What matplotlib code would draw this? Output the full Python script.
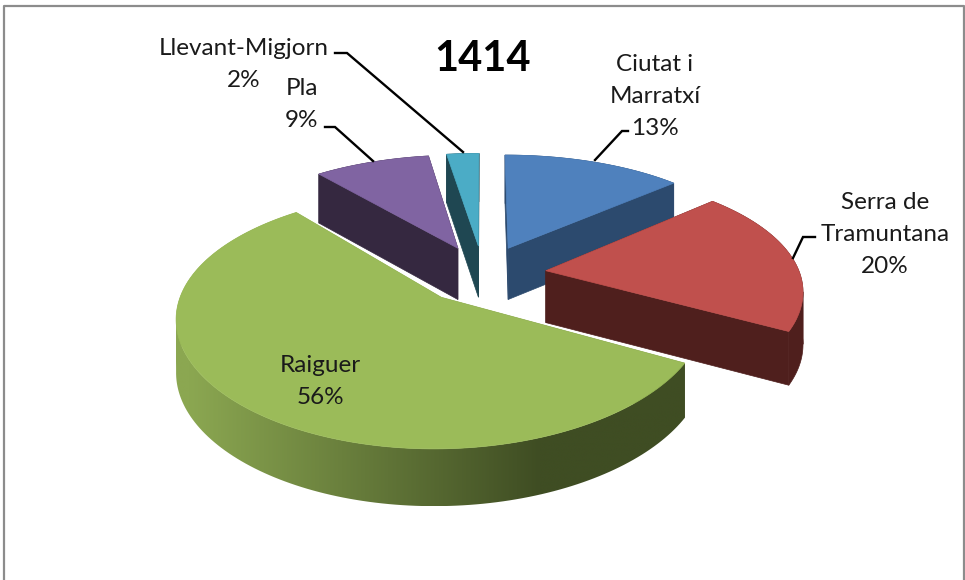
import numpy as np
import matplotlib
matplotlib.use('Agg')
import matplotlib.pyplot as plt
from matplotlib.colors import to_rgb
from matplotlib.patches import Polygon

# chart data
names = ['Ciutat i\nMarratxí', 'Serra de\nTramuntana', 'Raiguer', 'Pla', 'Llevant-Migjorn']
values = [13.4, 19.6, 56.0, 8.6, 2.4]
title = '1414'

top_colors = ['#4f81bd', '#c0504d', '#9bbb59', '#8064a2', '#4bacc6']
wall_dark = ['#2c4a6e', '#4f1f1d', '#3f4d23', '#352840', '#1f4752']
wall_light = ['#2c4a6e', '#4f1f1d', '#8ba751', '#352840', '#1f4752']

# projection of the 3d pie, in pixels
cx, cy = 483, 274
a, k = 254, 117
dist_x, dist_y = 6.9, 5.9
depth = 52
explode = 0.25


def project(x, y, z=0.0):
    sx = dist_x / (dist_x + y)
    sy = dist_y / (dist_y + y)
    return cx + a * x * sx, cy - k * y * sy + z * depth * (1 + (sy - 1) * 0.4)


def wall_xy(pts):
    # top edge along pts, back along the bottom edge
    upper = [project(p[0], p[1], 0) for p in pts]
    lower = [project(p[0], p[1], 1) for p in pts[::-1]]
    return upper + lower


def draw_wall(ax, xy, i, z):
    if wall_light[i] == wall_dark[i]:
        ax.add_patch(Polygon(xy, closed=True, fc=wall_dark[i], ec=wall_dark[i], lw=0.5, zorder=z))
        return
    # shaded outer wall: horizontal gradient clipped to the wall outline
    xs = np.array([p[0] for p in xy])
    ys = np.array([p[1] for p in xy])
    col = np.linspace(xs.min(), xs.max(), 512)
    t = np.clip((col - 190) / 350, 0, 1)[:, None]
    c0, c1 = np.array(to_rgb(wall_light[i])), np.array(to_rgb(wall_dark[i]))
    img = (c0 + (c1 - c0) * t)[None, :, :]
    im = ax.imshow(img, extent=(xs.min(), xs.max(), ys.max(), ys.min()), aspect='auto',
                   interpolation='bilinear', zorder=z)
    im.set_clip_path(Polygon(xy, closed=True, transform=ax.transData))


def split_rim(rim):
    # cut the rim where it turns round in x, the wall outline would cross itself there
    xs = [project(*p)[0] for p in rim]
    cuts = sorted({int(np.argmin(xs)), int(np.argmax(xs)), 0, len(rim) - 1})
    return [rim[c0:c1 + 1] for c0, c1 in zip(cuts[:-1], cuts[1:])]


fig = plt.figure(figsize=(9.65, 5.8), dpi=100)
ax = fig.add_axes([0, 0, 1, 1])
plt.rcParams['font.family'] = ['Lato', 'DejaVu Sans']

# outer frame, open at the bottom
ax.plot([3.5, 3.5, 964, 964], [580, 5.5, 5.5, 580], color='#8c8c8c', lw=1.6, zorder=1)

total = sum(values)
edges = np.cumsum([0] + values) / total * 2 * np.pi
draw_order = [0, 4, 3, 1, 2]

z = 2
for i in draw_order:
    t0, t1 = edges[i], edges[i + 1]
    mid = (t0 + t1) / 2
    ox, oy = explode * np.sin(mid), explode * np.cos(mid)
    ts = np.linspace(t0, t1, 160)
    rim = [(ox + np.sin(t), oy + np.cos(t)) for t in ts]
    apex = (ox, oy)

    # cut faces and outer wall, back ones first
    faces = [[apex, rim[0]], [apex, rim[-1]]] + split_rim(rim)
    faces.sort(key=lambda f: -np.mean([p[1] for p in f]))
    for f in faces:
        draw_wall(ax, wall_xy(f), i, z)
        z += 1
    top = [project(*p) for p in [apex] + rim]
    ax.add_patch(Polygon(top, closed=True, fc=top_colors[i], ec=top_colors[i], lw=0.5, zorder=z))
    z += 1

# leader lines
leaders = [
    ([595, 622, 628], [160, 131, 131]),
    ([793, 803, 815], [258, 237, 237]),
    ([373, 335, 325], [161, 127, 127]),
    ([463, 347, 335], [152, 53, 53]),
]
for lx, ly in leaders:
    ax.plot(lx, ly, color='black', lw=1.7, zorder=50, solid_joinstyle='miter')

# labels, one text per line so the baselines can be set
label_x = [655, 885, 320, 302, 244]
label_base = [71, 209, 372, 95, 55]
line_step = 32
for name, val, lx, ly in zip(names, values, label_x, label_base):
    lines = name.split('\n') + ['%d%%' % round(val)]
    for n, line in enumerate(lines):
        ax.text(lx, ly + n * line_step, line, ha='center', va='baseline',
                fontsize=17.5, color='#1a1a1a', zorder=51)

ax.text(483, 59, title, ha='center', va='center', fontsize=30, fontweight='bold',
        color='black', zorder=51)

ax.set_xlim(0, 965)
ax.set_ylim(580, 0)
ax.axis('off')

fig.savefig('out.png', dpi=100)
